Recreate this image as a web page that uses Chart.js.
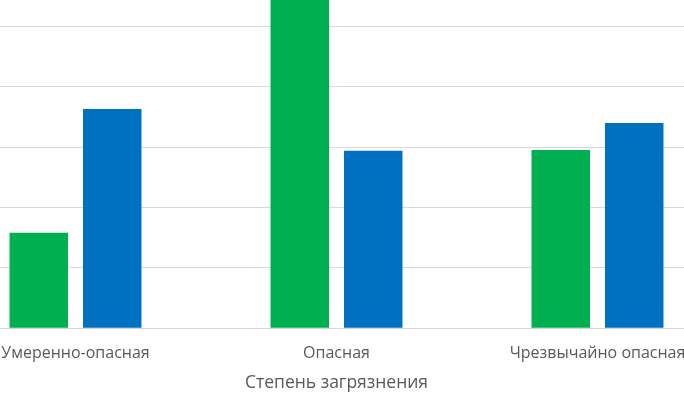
<!DOCTYPE html>
<html lang="ru">
<head>
  <meta charset="UTF-8" />
  <title>Степень загрязнения</title>
  <script src="https://cdn.jsdelivr.net/npm/chart.js"></script>
  <style>
    html, body { margin: 0; padding: 0; background: #fff; }
    .frame { position: relative; width: 684px; height: 394px; overflow: hidden; }
    /* the source image is a crop of a wider chart, so the canvas runs past the edges */
    .plot { position: absolute; left: -55px; top: -34px; width: 783px; height: 428px; }
  </style>
</head>
<body>
  <div class="frame">
    <div class="plot"><canvas id="chart"></canvas></div>
  </div>

  <script>
    // Data
    const categories = ['Умеренно-опасная', 'Опасная', 'Чрезвычайно опасная'];
    const greenValues = [1.58, 5.9, 2.95];
    const blueValues = [3.63, 2.94, 3.40];
    const axisTitle = 'Степень загрязнения';

    const textColor = '#595959';
    const fontFamily = '"Open Sans", "Noto Sans", sans-serif';

    new Chart(document.getElementById('chart'), {
      type: 'bar',
      data: {
        labels: categories,
        datasets: [
          { label: 'Ряд 1', data: greenValues, backgroundColor: '#00b050', categoryPercentage: 0.563, barPercentage: 0.796 },
          { label: 'Ряд 2', data: blueValues, backgroundColor: '#0070c0', categoryPercentage: 0.563, barPercentage: 0.796 }
        ]
      },
      options: {
        responsive: true,
        maintainAspectRatio: false,
        animation: false,
        layout: { padding: 0 },
        plugins: { legend: { display: false }, tooltip: { enabled: false } },
        scales: {
          x: {
            grid: { display: false, drawTicks: false },
            border: { display: false },
            ticks: { color: textColor, padding: 16, maxRotation: 0, font: { family: fontFamily, size: 16 } },
            title: {
              display: true,
              text: axisTitle,
              color: textColor,
              padding: { top: -6.9, bottom: 0.5 },
              font: { family: fontFamily, size: 17.5 }
            }
          },
          y: {
            min: 0,
            max: 6,
            ticks: { display: false, stepSize: 1 },
            grid: { color: '#d9d9d9', lineWidth: 1, drawTicks: false },
            border: { display: false }
          }
        }
      }
    });
  </script>
</body>
</html>
